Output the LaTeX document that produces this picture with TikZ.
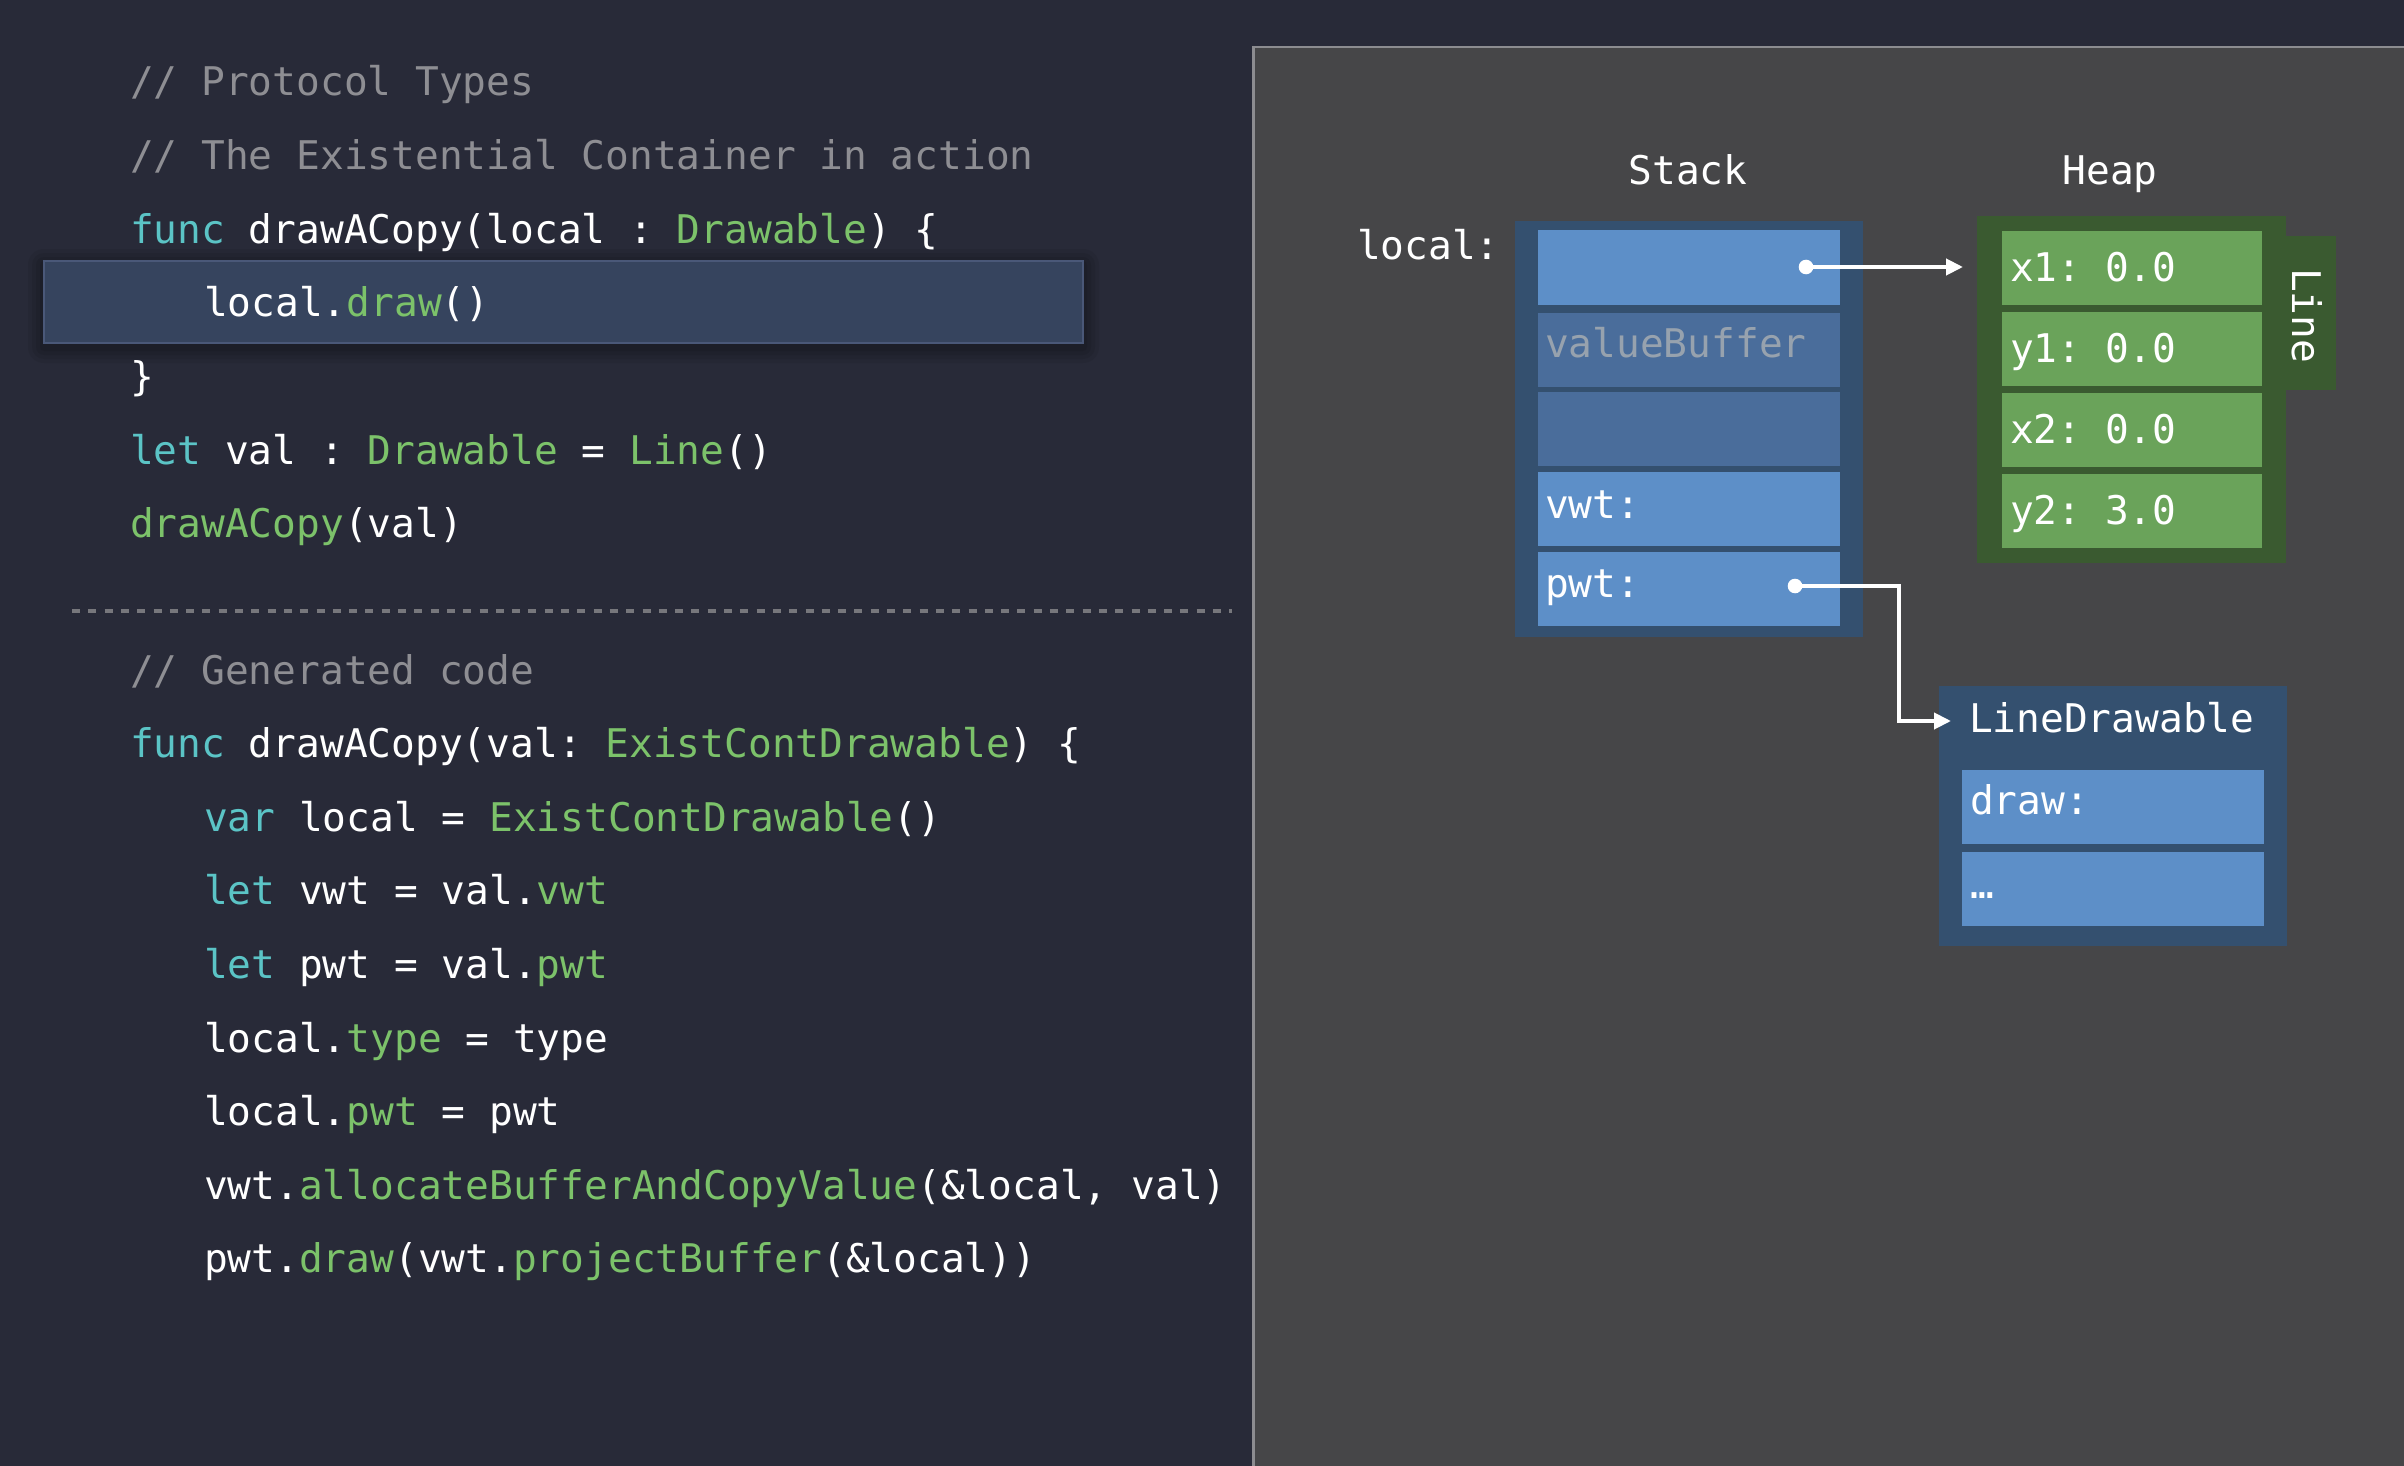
\documentclass[tikz,border=0pt]{standalone}
\usepackage{fontspec}
\newfontfamily\codefont{DejaVu Sans Mono}
\usetikzlibrary{arrows.meta}
\definecolor{bgdark}{HTML}{282A38}
\definecolor{panelgray}{HTML}{464648}
\definecolor{panelborder}{HTML}{8C8C90}
\definecolor{cmtgray}{HTML}{8E8E93}
\definecolor{kwteal}{HTML}{5BC4C6}
\definecolor{typegreen}{HTML}{7CC26A}
\definecolor{hlfill}{HTML}{36445E}
\definecolor{hlborder}{HTML}{4A5878}
\definecolor{dashgray}{HTML}{77777C}
\definecolor{stackouter}{HTML}{34506F}
\definecolor{cellbright}{HTML}{5D8FC8}
\definecolor{celldim}{HTML}{4A6D9B}
\definecolor{vbtext}{HTML}{97A2AE}
\definecolor{heapouter}{HTML}{3A5A30}
\definecolor{heapcell}{HTML}{6AA35A}
\newcommand{\kw}[1]{\textcolor{kwteal}{#1}}
\newcommand{\ty}[1]{\textcolor{typegreen}{#1}}
\newcommand{\cm}[1]{\textcolor{cmtgray}{#1}}
\begin{document}
\begin{tikzpicture}[x=1pt,y=-1pt,
  every node/.style={inner sep=0pt, outer sep=0pt},
  codeline/.style={anchor=base west, text=white, font=\codefont\fontsize{39.5}{47}\selectfont\frenchspacing},
  rectbox/.style n args={2}{minimum width=#1, minimum height=#2, anchor=north west},
  conn/.style={white, line width=4pt, -{Triangle[length=17pt,width=16pt]}}
]
% backgrounds
\fill[bgdark] (0,0) rectangle (2404,1466);
\useasboundingbox (0,0) rectangle (2404,1466);
\fill[panelgray] (1252,46) rectangle (2404,1466);
\draw[panelborder, line width=2.5pt] (1253.25,1466) -- (1253.25,47.25) -- (2404,47.25);

% highlight with soft shadow
\foreach \s in {16,12,8,4}{
  \fill[black, opacity=0.07, rounded corners=\s pt] (44-\s,261-\s+4) rectangle (1083+\s,343+\s+4);
}
\node[rectbox={1039pt}{82pt}, fill=hlfill, draw=hlborder, line width=1.5pt] (hl) at (44,261) {};

% code, block 1
\node[codeline] (c1) at (130,96) {\cm{// Protocol Types}};
\node[codeline] (c2) at (130,169.6) {\cm{// The Existential Container in action}};
\node[codeline] (c3) at (130,243.2) {\kw{func} drawACopy(local : \ty{Drawable}) \{};
\node[codeline] (c4) at (204,316.8) {local.\ty{draw}()};
\node[codeline] (c5) at (130,390.4) {\}};
\node[codeline] (c6) at (130,464) {\kw{let} val : \ty{Drawable} = \ty{Line}()};
\node[codeline] (c7) at (130,537.6) {\ty{drawACopy}(val)};

\draw[dashgray, line width=4pt, dash pattern=on 8pt off 8.3pt] (72,611) -- (1232,611);

% code, block 2
\node[codeline] (g1) at (130,684) {\cm{// Generated code}};
\node[codeline] (g2) at (130,757.6) {\kw{func} drawACopy(val: \ty{ExistContDrawable}) \{};
\node[codeline] (g3) at (204,831.2) {\kw{var} local = \ty{ExistContDrawable}()};
\node[codeline] (g4) at (204,904.8) {\kw{let} vwt = val.\ty{vwt}};
\node[codeline] (g5) at (204,978.4) {\kw{let} pwt = val.\ty{pwt}};
\node[codeline] (g6) at (204,1052) {local.\ty{type} = type};
\node[codeline] (g7) at (204,1125.6) {local.\ty{pwt} = pwt};
\node[codeline] (g8) at (204,1199.2) {vwt.\ty{allocateBufferAndCopyValue}(\&local, val)};
\node[codeline] (g9) at (204,1272.8) {pwt.\ty{draw}(vwt.\ty{projectBuffer}(\&local))};

% labels
\node[codeline, anchor=base] (stacklbl) at (1688,185) {Stack};
\node[codeline, anchor=base] (heaplbl) at (2110,185) {Heap};
\node[codeline] (locallbl) at (1357,259) {local:};

% stack
\node[rectbox={348pt}{416pt}, fill=stackouter] (stack) at (1515,221) {};
\node[rectbox={302pt}{75pt}, fill=cellbright] (s1) at (1538,230) {};
\node[rectbox={302pt}{74pt}, fill=celldim] (s2) at (1538,313) {};
\node[rectbox={302pt}{74pt}, fill=celldim] (s3) at (1538,392) {};
\node[rectbox={302pt}{74pt}, fill=cellbright] (s4) at (1538,472) {};
\node[rectbox={302pt}{74pt}, fill=cellbright] (s5) at (1538,552) {};
\node[codeline, text=vbtext] (vbt) at (1545,357) {valueBuffer};
\node[codeline] (vwtt) at (1545,518) {vwt:};
\node[codeline] (pwtt) at (1545,597) {pwt:};

% heap
\node[rectbox={309pt}{347pt}, fill=heapouter] (heap) at (1977,216) {};
\node[rectbox={51pt}{154pt}, fill=heapouter] (tab) at (2285,236) {};
\node[codeline, rotate=-90] (linelbl) at (2292,268) {Line};
\node[rectbox={260pt}{74pt}, fill=heapcell] (h1) at (2002,231) {};
\node[rectbox={260pt}{74pt}, fill=heapcell] (h2) at (2002,312) {};
\node[rectbox={260pt}{74pt}, fill=heapcell] (h3) at (2002,393) {};
\node[rectbox={260pt}{74pt}, fill=heapcell] (h4) at (2002,474) {};
\node[codeline] (h1t) at (2010,281) {x1: 0.0};
\node[codeline] (h2t) at (2010,362) {y1: 0.0};
\node[codeline] (h3t) at (2010,443) {x2: 0.0};
\node[codeline] (h4t) at (2010,524) {y2: 3.0};

% LineDrawable
\node[rectbox={348pt}{260pt}, fill=stackouter] (ld) at (1939,686) {};
\node[codeline] (ldt) at (1969,732) {LineDrawable};
\node[rectbox={302pt}{74pt}, fill=cellbright] (l1) at (1962,770) {};
\node[rectbox={302pt}{74pt}, fill=cellbright] (l2) at (1962,852) {};
\node[codeline] (l1t) at (1970,814) {draw:};
\node[codeline] (l2t) at (1970,898) {…};

% connectors
\coordinate (d1) at (1806,267);
\coordinate (d2) at (1795,586);
\coordinate (bend) at (1899,721);
\coordinate (ldin) at (1951,721);
\draw[conn, shorten >=14pt] (d1) -- (d1 -| heap.west);
\fill[white] (d1) circle (7.3pt);
\draw[conn] (d2) -| (bend) -- (ldin);
\fill[white] (d2) circle (7.3pt);
\end{tikzpicture}
\end{document}
